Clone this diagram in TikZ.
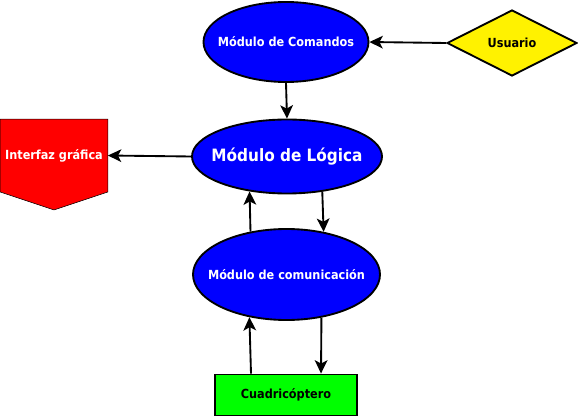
\documentclass[tikz,border=0pt]{standalone}
\usepackage{fontspec}
\setmainfont{DejaVu Sans Condensed}
\usetikzlibrary{shapes.geometric,arrows.meta,backgrounds}

\tikzset{every picture/.style={line width=1.4pt}}
\tikzset{
  modulo/.style={ellipse, draw=black, fill=blue, inner sep=0pt},
  textmod/.style={text=white, inner sep=0pt, font=\fontsize{9.4}{11}\selectfont\bfseries},
  flecha/.style={-{Stealth[length=10pt,width=9.5pt,inset=2.5pt]}, draw=black}
}

\begin{document}
\begin{tikzpicture}[x=0.75pt,y=0.75pt,yscale=-1,xscale=1]
    \useasboundingbox (0,0) rectangle (578,417);
    % Ellipse Nodes
    \node (cmd) at (286,42) [modulo, minimum width=123.75pt, minimum height=60pt, label={[textmod]center:Módulo de Comandos}] {};
    \node (logica) at (287,156.5) [modulo, minimum width=142.5pt, minimum height=55.5pt, label={[textmod, font=\fontsize{12.75}{15}\selectfont\bfseries]center:Módulo de Lógica}] {};
    \node (com) at (286.5,274.5) [modulo, minimum width=140.25pt, minimum height=68.25pt, label={[textmod]center:Módulo de comunicación}] {};
    % Diamond Node
    \node (usr) at (512,43) [diamond, draw=black, fill=yellow, inner sep=0pt, minimum width=97.5pt, minimum height=49.5pt, font=\fontsize{9.4}{11}\selectfont\bfseries] {Usuario};
    % Rectangle Node
    \node (cuad) at (286,395) [rectangle, draw=black, fill=green, minimum width=106.5pt, minimum height=30.75pt, font=\fontsize{9.4}{11}\selectfont\bfseries] {Cuadricóptero};
    % Text Node
    \node (gui) at (54,155.5) [textmod, rectangle, minimum width=79.5pt, minimum height=53.25pt] {Interfaz gráfica};
    \begin{scope}[on background layer]
    %Shape: Pentagon
    \draw[fill=red, line join=miter] (gui.north west) -- (gui.north east) -- (gui.south east) -- ([yshift=13.5pt]gui.south) -- (gui.south west) -- cycle;
    \end{scope}
    %Straight Lines
    \draw[flecha] (usr.west) -- (cmd.east);
    \draw[flecha] (cmd.south) -- (logica.north);
    \draw[flecha] (logica.west) -- (gui.east);
    \draw[flecha] (com.130.1) -- (logica.223.5);
    \draw[flecha] (logica.315.5) -- (com.49.9);
    \draw[flecha] ([xshift=-26.25pt]cuad.north) -- (com.229.9);
    \draw[flecha] (com.309.2) -- ([xshift=26.25pt]cuad.north);
\end{tikzpicture}
\end{document}
